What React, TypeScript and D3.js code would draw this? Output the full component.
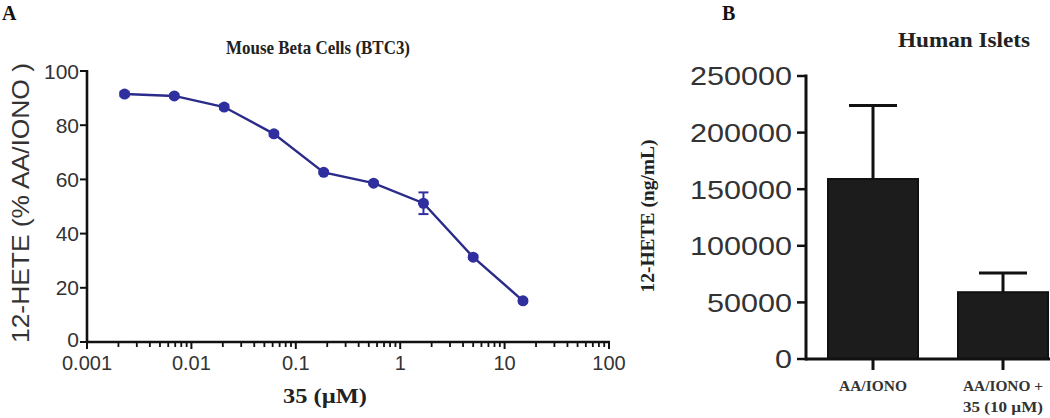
import React from "react";
import * as d3 from "d3";

// Panel A data
const concentrations = [0.00229, 0.00686, 0.0206, 0.0617, 0.185, 0.556, 1.67, 5, 15];
const percentValues = [91.5, 90.8, 86.7, 76.8, 62.6, 58.6, 51.2, 31.3, 15.2];
const percentErrors = [0.8, 0.6, 0.8, 0.8, 0.6, 0.6, 4, 0.7, 0.6];
const xTickValues = [0.001, 0.01, 0.1, 1, 10, 100];
const xTickLabels = ["0.001", "0.01", "0.1", "1", "10", "100"];
const yTickValues = [0, 20, 40, 60, 80, 100];

// Panel B data
const categories = ["AA/IONO", "AA/IONO + 35 (10 µM)"];
const categoryLines = [["AA/IONO"], ["AA/IONO +", "35 (10 µM)"]];
const barValues = [159000, 59000];
const barErrors = [65000, 17000];
const bTickValues = [0, 50000, 100000, 150000, 200000, 250000];

const SANS = "'Liberation Sans', Arial, sans-serif";
const SERIF = "'Liberation Serif', 'Times New Roman', serif";

export default function App() {
  // Panel A scales
  const x = d3.scaleLog().domain([0.001, 100]).range([87, 609]);
  const y = d3.scaleLinear().domain([0, 100]).range([342, 71]);
  const line = d3
    .line<number>()
    .x((_, i) => x(concentrations[i]))
    .y((d) => y(d));

  const minorTicks: number[] = [];
  for (let e = -3; e < 2; e++) {
    for (let m = 2; m <= 9; m++) minorTicks.push(m * Math.pow(10, e));
  }

  // Panel B scales
  const xb = d3
    .scaleBand<string>()
    .domain(categories)
    .range([808, 1068])
    .paddingInner(40 / 130)
    .paddingOuter(20 / 130);
  const yb = d3.scaleLinear().domain([0, 250000]).range([359, 76]);

  const lineColor = "#2b2b8a";
  const markerColor = "#2f2fa0";

  return (
    <svg width={1050} height={418} style={{ position: "absolute", left: 0, top: 0, background: "#fff" }}>
      <rect x={0} y={0} width={1050} height={418} fill="#fff" />
      {/* Panel A */}
      <text x={2} y={20} fontFamily={SERIF} fontWeight="bold" fontSize={20} fill="#111">A</text>
      <text x={318} y={54} textAnchor="middle" fontFamily={SERIF} fontWeight="bold" fontSize={19} fill="#222"
        textLength={184} lengthAdjust="spacingAndGlyphs">Mouse Beta Cells (BTC3)</text>
      <text transform="translate(29,203) rotate(-90)" textAnchor="middle" fontFamily={SANS} fontSize={24} fill="#333"
        textLength={280} lengthAdjust="spacingAndGlyphs">12-HETE (% AA/IONO )</text>
      <text x={325} y={403} textAnchor="middle" fontFamily={SERIF} fontWeight="bold" fontSize={20} fill="#222"
        textLength={84} lengthAdjust="spacingAndGlyphs">35 (µM)</text>

      {/* y axis */}
      <line x1={x(0.001)} x2={x(0.001)} y1={y(100) - 1} y2={y(0) + 1} stroke="#111" strokeWidth={2.6} />
      {yTickValues.map((t) => (
        <g key={"yt" + t}>
          <line x1={x(0.001) - 7} x2={x(0.001)} y1={y(t)} y2={y(t)} stroke="#111" strokeWidth={2} />
          <text x={x(0.001) - 8} y={y(t)} dy={t === 0 ? "0.25em" : "0.36em"} textAnchor="end" fontFamily={SANS} fontSize={21} fill="#333">{t}</text>
        </g>
      ))}
      {/* x axis */}
      <line x1={x(0.001) - 1} x2={x(100) + 1} y1={y(0)} y2={y(0)} stroke="#111" strokeWidth={2.6} />
      {xTickValues.map((t, i) => (
        <g key={"xt" + t}>
          <line x1={x(t)} x2={x(t)} y1={y(0)} y2={y(0) + 7} stroke="#111" strokeWidth={2} />
          <text x={x(t)} y={370} textAnchor="middle" fontFamily={SANS} fontSize={20} fill="#333">{xTickLabels[i]}</text>
        </g>
      ))}
      {minorTicks.map((t) => (
        <line key={"mt" + t} x1={x(t)} x2={x(t)} y1={y(0)} y2={y(0) + 5} stroke="#111" strokeWidth={1.8} />
      ))}

      {/* data line */}
      <path d={line(percentValues) || ""} fill="none" stroke={lineColor} strokeWidth={2.4} />
      {percentValues.map((v, i) => {
        const cx = x(concentrations[i]);
        const e = percentErrors[i];
        return (
          <g key={"pt" + i}>
            <line x1={cx} x2={cx} y1={y(v + e)} y2={y(v - e)} stroke={markerColor} strokeWidth={2} />
            <line x1={cx - 5} x2={cx + 5} y1={y(v + e)} y2={y(v + e)} stroke={markerColor} strokeWidth={2} />
            <line x1={cx - 5} x2={cx + 5} y1={y(v - e)} y2={y(v - e)} stroke={markerColor} strokeWidth={2} />
            <circle cx={cx} cy={y(v)} r={5.5} fill={markerColor} />
          </g>
        );
      })}

      {/* Panel B */}
      <text x={722} y={20} fontFamily={SERIF} fontWeight="bold" fontSize={20} fill="#111">B</text>
      <text x={964} y={47} textAnchor="middle" fontFamily={SERIF} fontWeight="bold" fontSize={20} fill="#222"
        textLength={132} lengthAdjust="spacingAndGlyphs">Human Islets</text>
      <text transform="translate(654,216) rotate(-90)" textAnchor="middle" fontFamily={SERIF} fontWeight="bold" fontSize={19} fill="#222"
        textLength={153} lengthAdjust="spacingAndGlyphs">12-HETE (ng/mL)</text>

      {/* bars */}
      {barValues.map((v, i) => {
        const c = categories[i];
        const bx = xb(c) || 0;
        const cx = bx + xb.bandwidth() / 2;
        const top = yb(v + barErrors[i]);
        return (
          <g key={"bar" + i}>
            <line x1={cx} x2={cx} y1={top} y2={yb(v)} stroke="#111" strokeWidth={3} />
            <line x1={cx - 24} x2={cx + 24} y1={top} y2={top} stroke="#111" strokeWidth={3} />
            <rect x={bx} y={yb(v)} width={xb.bandwidth()} height={yb(0) - yb(v)} fill="#1c1c1c" stroke="#111" strokeWidth={2} />
            <line x1={cx} x2={cx} y1={yb(0)} y2={yb(0) + 11} stroke="#111" strokeWidth={3} />
            {categoryLines[i].map((ln, j) => (
              <text key={j} x={cx} y={391 + j * 21} textAnchor="middle" fontFamily={SERIF} fontWeight="bold" fontSize={14} fill="#333"
                textLength={ln.length > 8 ? 80 : 68} lengthAdjust="spacingAndGlyphs">{ln}</text>
            ))}
          </g>
        );
      })}

      {/* axes B */}
      <line x1={806} x2={806} y1={yb(250000) - 1.5} y2={yb(0) + 1.5} stroke="#111" strokeWidth={3} />
      <line x1={806} x2={1050} y1={yb(0)} y2={yb(0)} stroke="#111" strokeWidth={3} />
      {bTickValues.map((t) => (
        <g key={"bt" + t}>
          <line x1={797} x2={806} y1={yb(t)} y2={yb(t)} stroke="#111" strokeWidth={2.5} />
          <text x={792} y={yb(t)} dy="0.36em" textAnchor="end" fontFamily={SANS} fontSize={26} fill="#333"
            textLength={String(t).length * 17} lengthAdjust="spacingAndGlyphs">{t}</text>
        </g>
      ))}
    </svg>
  );
}
